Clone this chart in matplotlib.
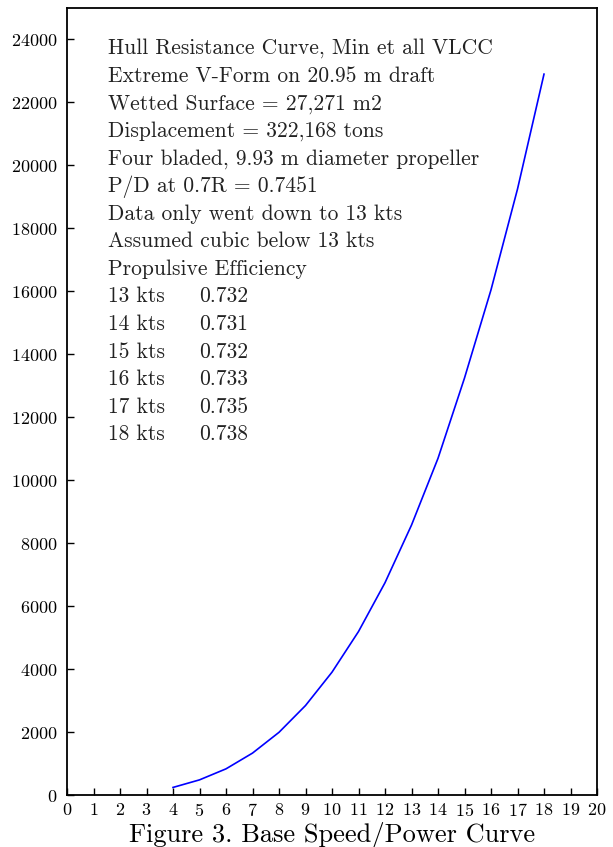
import matplotlib
matplotlib.use("Agg")
import matplotlib.pyplot as plt

# speed (kts) vs power
speed = [4, 5, 6, 7, 8, 9, 10, 11, 12, 13, 14, 15, 16, 17, 18]
power = [250, 490, 840, 1340, 2000, 2850, 3910, 5200, 6750, 8580,
         10700, 13250, 16050, 19250, 22900]

notes = [
    "Hull Resistance Curve, Min et all VLCC",
    "Extreme V-Form on 20.95 m draft",
    "Wetted Surface = 27,271 m2",
    "Displacement = 322,168 tons",
    "Four bladed, 9.93 m diameter propeller",
    "P/D at 0.7R = 0.7451",
    "Data only went down to 13 kts",
    "Assumed cubic below 13 kts",
    "Propulsive Efficiency",
]
eff_speed = ["13 kts", "14 kts", "15 kts", "16 kts", "17 kts", "18 kts"]
eff_value = ["0.732", "0.731", "0.732", "0.733", "0.735", "0.738"]

plt.rcParams["font.family"] = "serif"
plt.rcParams["font.serif"] = ["cmr10"]
plt.rcParams["axes.unicode_minus"] = False
plt.rcParams["axes.formatter.use_mathtext"] = True

fig = plt.figure(figsize=(6.13, 8.47), dpi=100)
ax = fig.add_axes([67 / 613, 1 - 795.3 / 847, 530 / 613, 787.3 / 847])

ax.plot(speed, power, color="#0000ff", lw=1.2)

ax.set_xlim(0, 20)
ax.set_ylim(0, 25000)
ax.set_xticks(range(0, 21))
ax.set_yticks(range(0, 24001, 2000))
ax.tick_params(direction="in", length=5, width=1.0, labelsize=13,
               top=False, right=False)
ax.tick_params(axis="y", pad=7)
ax.tick_params(axis="x", pad=5)
for s in ax.spines.values():
    s.set_linewidth(1.3)

y0 = (795.3 - 54) / 787.3
dy = 27.6 / 787.3
for i, line in enumerate(notes):
    ax.text(0.0774, y0 - i * dy, line, transform=ax.transAxes,
            fontsize=15.5, va="baseline", ha="left", color="#222222")
for j, (s, v) in enumerate(zip(eff_speed, eff_value)):
    yy = y0 - (len(notes) + j) * dy
    ax.text(0.0774, yy, s, transform=ax.transAxes, fontsize=15.5,
            va="baseline", ha="left", color="#222222")
    ax.text(0.2497, yy, v, transform=ax.transAxes, fontsize=15.5,
            va="baseline", ha="left", color="#222222")

fig.text(332 / 613, (847 - 841.5) / 847, "Figure 3. Base Speed/Power Curve",
         fontsize=19, ha="center", va="baseline")

fig.savefig("out.png", dpi=100)
